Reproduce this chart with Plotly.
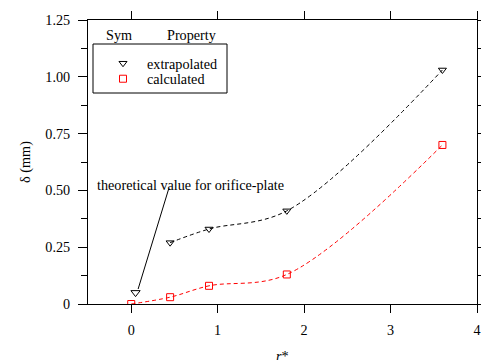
import plotly.graph_objects as go

# data
x_ext = [0.45, 0.9, 1.8, 3.6]
y_ext = [0.27, 0.33, 0.41, 1.03]
x_calc = [0.0, 0.45, 0.9, 1.8, 3.6]
y_calc = [0.0, 0.03, 0.08, 0.13, 0.70]
x_theo = [0.05]
y_theo = [0.05]
x_ticks = [0, 1, 2, 3, 4]
y_ticks = [0, 0.25, 0.5, 0.75, 1.0, 1.25]
y_ticklabels = ["0", "0.25", "0.50", "0.75", "1.00", "1.25"]

FONT = "Liberation Serif"
FS = 14.2
RED = "#ff0000"

fig = go.Figure()
# dashed spline lines (no legend)
fig.add_trace(go.Scatter(
    x=x_ext, y=y_ext, mode="lines", showlegend=False,
    line=dict(color="black", width=1, dash="4px,3px", shape="spline", smoothing=1),
))
fig.add_trace(go.Scatter(
    x=x_calc, y=y_calc, mode="lines", showlegend=False,
    line=dict(color=RED, width=1, dash="4px,3px", shape="spline", smoothing=1),
))
# markers (legend entries, one legend each for tight spacing)
fig.add_trace(go.Scatter(
    x=x_ext, y=y_ext, mode="markers", name="extrapolated", legend="legend",
    marker=dict(symbol="triangle-down-open", size=7, color="black", line=dict(width=1)),
))
fig.add_trace(go.Scatter(
    x=x_calc, y=y_calc, mode="markers", name="calculated", legend="legend2",
    marker=dict(symbol="square-open", size=7, color=RED, line=dict(width=1)),
))
fig.add_trace(go.Scatter(
    x=x_theo, y=y_theo, mode="markers", showlegend=False,
    marker=dict(symbol="triangle-down-open", size=8, color="black", line=dict(width=1)),
))

fig.add_annotation(x=0.08, y=0.066, ax=0.44, ay=0.515, xref="x", yref="y",
                   axref="x", ayref="y", text="", showarrow=True,
                   arrowhead=0, arrowwidth=1, arrowcolor="black")
fig.add_annotation(x=-0.415, y=0.524, xref="x", yref="y", xanchor="left", yanchor="middle",
                   text="theoretical value for orifice-plate", showarrow=False,
                   font=dict(family=FONT, size=FS, color="black"))
fig.add_annotation(x=(119 - 88) / 389, y=(304 - 35) / 284, xref="paper", yref="paper",
                   xanchor="center", yanchor="middle", text="Sym",
                   showarrow=False, font=dict(family=FONT, size=FS, color="black"))
fig.add_annotation(x=(192 - 88) / 389, y=(304 - 35) / 284, xref="paper", yref="paper",
                   xanchor="center", yanchor="middle", text="Property",
                   showarrow=False, font=dict(family=FONT, size=FS, color="black"))
fig.add_annotation(x=0.501, y=-0.149, xref="paper", yref="paper",
                   xanchor="center", yanchor="top",
                   text="<i>r</i>*", showarrow=False,
                   font=dict(family=FONT, size=FS, color="black"))
# legend frame
fig.add_shape(type="rect", xref="paper", yref="paper",
              x0=(93 - 88) / 389, x1=(227 - 88) / 389,
              y0=(304 - 93) / 284, y1=(304 - 44) / 284,
              line=dict(color="black", width=1), fillcolor="rgba(0,0,0,0)")

leg_common = dict(xanchor="left", yanchor="top", borderwidth=0,
                  bgcolor="rgba(0,0,0,0)", font=dict(family=FONT, size=FS),
                  itemwidth=38)

fig.update_layout(
    width=481, height=360,
    margin=dict(l=88, r=4, t=20, b=56, autoexpand=False),
    paper_bgcolor="white", plot_bgcolor="white",
    font=dict(family=FONT, size=FS, color="black"),
    showlegend=True,
    legend=dict(x=(99 - 88) / 389, y=(304 - 47.5) / 284, **leg_common),
    legend2=dict(x=(99 - 88) / 389, y=(304 - 63) / 284, **leg_common),
    xaxis=dict(range=[-0.5, 4], tickvals=x_ticks, showgrid=False, zeroline=False,
               showline=True, linecolor="black", linewidth=1, mirror="ticks",
               ticks="outside", ticklen=8, tickcolor="black", tickwidth=1,
               ticklabelstandoff=5, automargin=False),
    yaxis=dict(range=[0, 1.25], tickvals=y_ticks, ticktext=y_ticklabels,
               showgrid=False, zeroline=False,
               showline=True, linecolor="black", linewidth=1, mirror="ticks",
               ticks="outside", ticklen=9, tickcolor="black", tickwidth=1,
               ticklabelstandoff=5, automargin=False,
               minor=dict(dtick=0.125, tick0=0, ticks="outside", ticklen=6,
                          tickcolor="black", showgrid=False),
               title=dict(text="δ (mm)", standoff=11, font=dict(family=FONT, size=FS))),
)

fig.write_html("out.html", config={"displayModeBar": False},
               post_script="document.body.style.margin='0';")
